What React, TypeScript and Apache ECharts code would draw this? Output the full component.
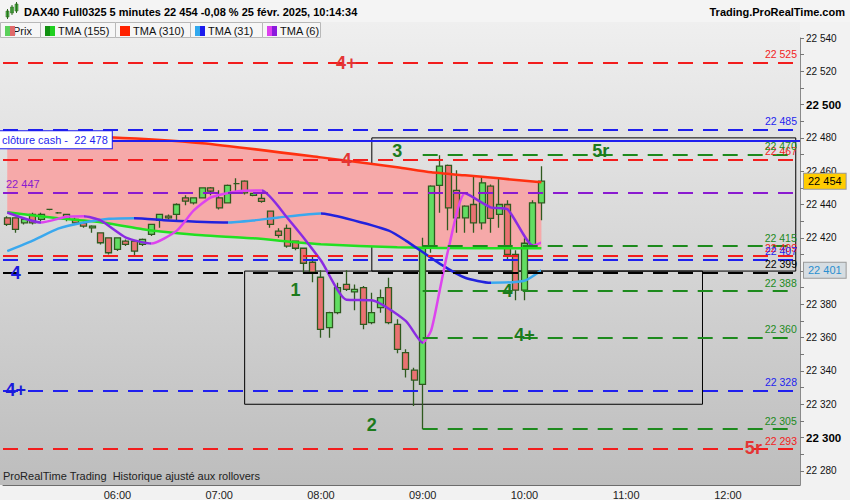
import React, { useEffect, useRef } from 'react';
import * as echarts from 'echarts';

const FONT = 'Liberation Sans, Arial, sans-serif';

// 5 minute slots, 04:55 -> 12:40
const START_MIN = 4 * 60 + 55;
const SLOT_COUNT = 94;
const categories = Array.from({ length: SLOT_COUNT }, (_, i) => {
  const m = START_MIN + i * 5;
  return `${String(Math.floor(m / 60)).padStart(2, '0')}:${String(m % 60).padStart(2, '0')}`;
});

// [open, close, low, high], one per 5 min from 04:55
const candles = [
  [22432, 22428, 22427, 22433],
  [22432, 22425, 22423, 22432],
  [22429, 22431, 22428, 22432],
  [22434, 22429, 22428, 22435],
  [22431, 22434, 22430, 22435],
  [22437, 22437, 22436.5, 22437.5],
  [22435, 22435, 22434.5, 22435.5],
  [22434, 22431, 22430, 22434],
  [22431, 22429, 22428, 22432],
  [22429, 22427, 22426, 22430],
  [22426, 22427, 22423, 22427.5],
  [22423, 22417, 22416, 22423],
  [22420, 22411, 22410, 22420],
  [22413, 22420, 22412, 22420],
  [22418, 22416, 22415, 22419],
  [22418, 22412, 22409.5, 22418],
  [22416, 22419, 22415, 22419.5],
  [22422, 22428, 22421, 22428],
  [22430.5, 22434, 22426, 22434],
  [22433, 22432, 22431, 22434],
  [22434, 22440, 22430.5, 22440.7],
  [22444, 22442, 22439.5, 22445.5],
  [22441, 22444, 22440, 22444],
  [22444, 22450, 22443.7, 22450],
  [22450, 22448, 22445.5, 22450.5],
  [22444, 22438, 22437, 22448.5],
  [22441, 22451.5, 22441, 22452],
  [22452.5, 22452.5, 22447.3, 22455.7],
  [22454, 22447, 22446, 22454.5],
  [22445.5, 22446.7, 22445, 22447],
  [22443.7, 22441.9, 22441, 22446.7],
  [22436, 22428, 22426, 22436],
  [22424, 22421.5, 22420, 22425.7],
  [22425.7, 22415, 22414, 22428],
  [22418, 22413.7, 22412.5, 22418],
  [22413.7, 22404.7, 22398.7, 22414],
  [22405.3, 22399.3, 22393.3, 22408.9],
  [22396.3, 22365, 22360, 22400.5],
  [22366, 22375, 22360, 22375.5],
  [22375, 22390, 22374, 22393],
  [22392, 22389, 22388, 22400.5],
  [22387.5, 22389, 22376.5, 22392],
  [22390, 22368, 22365, 22391],
  [22369, 22375, 22368, 22387],
  [22378, 22384, 22375, 22389],
  [22390, 22369, 22368, 22396],
  [22368, 22353, 22350.7, 22371],
  [22351, 22341, 22336, 22353],
  [22340.5, 22334.5, 22319, 22342],
  [22332, 22414, 22305, 22420],
  [22414, 22451, 22411, 22451.5],
  [22451.5, 22463, 22435, 22469.5],
  [22463.5, 22438, 22424.5, 22464],
  [22448.5, 22432, 22423, 22460.5],
  [22432, 22439, 22423, 22439.5],
  [22440, 22429, 22423, 22457],
  [22429, 22453, 22425, 22457],
  [22451, 22431.7, 22423, 22452],
  [22434, 22440, 22426, 22456],
  [22440, 22410, 22406.5, 22442.5],
  [22410, 22388.5, 22382.5, 22412.5],
  [22388.5, 22416.7, 22382.5, 22419.7],
  [22415.5, 22441, 22414, 22442.5],
  [22441, 22454, 22430.5, 22463],
];

// moving averages, read at a few times
const tma310: [string, number][] = [
  ['04:55', 22482], ['05:55', 22480.4], ['06:50', 22476.8], ['08:00', 22468.3],
  ['08:45', 22462.3], ['09:05', 22459.3], ['09:25', 22457.5], ['09:45', 22455.7], ['10:10', 22453.3],
];
const tma155: [string, number][] = [
  ['04:55', 22435.3], ['05:25', 22431.7], ['05:50', 22429.3], ['06:15', 22425.1], ['06:30', 22423.3],
  ['06:50', 22421.5], ['07:20', 22419.7], ['07:45', 22417.3], ['08:00', 22416.1], ['08:45', 22414.3],
  ['09:35', 22413.7], ['10:10', 22413.7],
];
const tma31: [string, number][] = [
  ['04:55', 22412], ['05:10', 22418.3], ['05:25', 22425.5], ['05:40', 22429.2], ['05:55', 22431.4],
  ['06:10', 22431.8], ['06:30', 22430.4], ['07:05', 22429.2], ['07:20', 22430.4], ['07:35', 22432.2],
  ['08:00', 22434.6], ['08:15', 22431.6], ['08:40', 22424.3], ['08:50', 22418.3], ['09:10', 22404.5],
  ['09:25', 22396], ['09:40', 22393], ['10:00', 22394.2], ['10:10', 22400.5],
];
const tma6: [string, number][] = [
  ['04:55', 22435.2], ['05:15', 22429.2], ['05:30', 22432.6], ['05:40', 22432.9], ['05:50', 22430.4],
  ['06:05', 22420.1], ['06:20', 22416.5], ['06:35', 22424.3], ['06:45', 22436.4], ['06:55', 22444.2],
  ['07:10', 22447.8], ['07:25', 22448.4], ['07:40', 22432.2], ['08:00', 22406.3], ['08:15', 22382.8],
  ['08:30', 22382.5], ['08:50', 22370.1], ['09:00', 22356.9], ['09:05', 22364.4], ['09:10', 22388.2],
  ['09:15', 22412.5], ['09:25', 22446.7], ['09:40', 22438.3], ['09:50', 22437.1], ['10:05', 22415.3],
  ['10:10', 22417.1],
];

// horizontal levels
const redLevels = [22525, 22467, 22409, 22293];
const blueLevels = [22485, 22407, 22328];
const blackLevels = [22399];
const purpleLevels = [22447];
const greenLevels = [22470, 22415, 22388, 22360, 22305];
const greenLevelStart = '09:00';
const cashClose = 22478;

const boxes = [
  { from: '07:15', to: '11:45', top: 22400, bottom: 22320 },
  { from: '08:30', to: '12:40', top: 22480, bottom: 22400 },
];

const waveLabels = [
  { text: '4+', time: '08:15', value: 22525, kind: 'red' },
  { text: '4', time: '08:15', value: 22467, kind: 'red' },
  { text: '3', time: '08:45', value: 22472, kind: 'green' },
  { text: '5r', time: '10:45', value: 22472, kind: 'green' },
  { text: '4', time: '05:00', value: 22399, kind: 'blue' },
  { text: '1', time: '07:45', value: 22388.5, kind: 'green' },
  { text: '4', time: '09:50', value: 22388, kind: 'green' },
  { text: '4+', time: '10:00', value: 22361.5, kind: 'green' },
  { text: '4+', time: '05:00', value: 22328.5, kind: 'blue' },
  { text: '2', time: '08:30', value: 22307.5, kind: 'green' },
  { text: '5r', time: '12:15', value: 22294, kind: 'red' },
];

const yLabels = [22280, 22300, 22320, 22340, 22360, 22380, 22400, 22420, 22440, 22460, 22480, 22500, 22520, 22540];
const yBold = [22300, 22400, 22500];

const COLORS = {
  red: '#f21d1d',
  blue: '#1f1fef',
  green: '#1d8a1d',
  purple: '#8a1ad0',
  black: '#000000',
};
const WAVE_COLORS: Record<string, string> = { red: '#e43535', green: '#1c7a1c', blue: '#1a1adc' };

const fmt = (v: number) => String(Math.round(v)).replace(/\B(?=(\d{3})+(?!\d))/g, ' ');
const idx = (t: string) => categories.indexOf(t);
const toPts = (arr: [string, number][]) => arr.map(([t, v]) => [idx(t), v]);

// colour each segment by direction (rising / falling)
const slopePieces = (pts: number[][], up: string, down: string) =>
  pts.slice(0, -1).map((p, k) => {
    const q = pts[k + 1];
    const last = k === pts.length - 2;
    return last
      ? { gte: p[0], lte: q[0], color: q[1] > p[1] ? up : down }
      : { gte: p[0], lt: q[0], color: q[1] > p[1] ? up : down };
  });

const DASH = [15, 10];

const levelLine = (value: number, color: string, opts: any = {}) => {
  const lineStyle = { color, width: 2, type: opts.solid ? 'solid' : DASH };
  const label = {
    show: true,
    position: opts.position ?? 'insideEndTop',
    formatter: opts.text ?? fmt(value),
    color,
    fontSize: 10.5,
    fontFamily: FONT,
    distance: 3,
    ...(opts.label ?? {}),
  };
  if (opts.from) {
    return [
      { coord: [idx(opts.from), value], lineStyle, label: { ...label, offset: [4, 0] } },
      { coord: [categories.length - 1, value], lineStyle, label: { ...label, offset: [4, 0] } },
    ];
  }
  return { yAxis: value, lineStyle, label };
};

const tabs = [
  { x: 0, w: 40, text: 'Prix', c: ['#5ad05a', '#e06a6a'] },
  { x: 40, w: 75, text: 'TMA (155)', c: ['#109010', '#20d020'] },
  { x: 115, w: 75, text: 'TMA (310)', c: ['#ff2200', '#ff2200'] },
  { x: 190, w: 72, text: 'TMA (31)', c: ['#30a8ee', '#1a1aee'] },
  { x: 262, w: 58, text: 'TMA (6)', c: ['#dd40ee', '#8a1add'] },
];

export default function App() {
  const ref = useRef<HTMLDivElement>(null);

  useEffect(() => {
    if (!ref.current) return;
    const chart = echarts.init(ref.current, null, { renderer: 'svg' });

    const p310 = toPts(tma310);
    const p155 = toPts(tma155);
    const p31 = toPts(tma31);
    const p6 = toPts(tma6);
    const lastClose = candles[candles.length - 1][1];
    const last31 = tma31[tma31.length - 1][1];

    const levelData: any[] = [
      ...redLevels.map(v => levelLine(v, COLORS.red)),
      ...blueLevels.map(v => levelLine(v, COLORS.blue)),
      ...blackLevels.map(v => levelLine(v, COLORS.black)),
      ...purpleLevels.map(v => levelLine(v, COLORS.purple, { position: 'insideStartTop', label: { fontSize: 11 } })),
      ...greenLevels.map(v => levelLine(v, COLORS.green, { from: greenLevelStart })),
      levelLine(cashClose, COLORS.blue, {
        solid: true,
        position: 'insideStartTop',
        text: `clôture cash -  ${fmt(cashClose)}`,
        label: {
          fontSize: 11,
          backgroundColor: '#ffffff',
          borderColor: COLORS.blue,
          borderWidth: 1,
          padding: [3, 4, 3, 3],
          distance: 0,
          offset: [-4, 7],
        },
      }),
    ];

    const tagLabel = {
      show: true,
      position: 'end',
      distance: 4,
      fontSize: 11,
      fontFamily: FONT,
      padding: [2, 4],
      borderWidth: 1,
      borderColor: '#9a9a9a',
      opacity: 1,
    };

    const option: any = {
      animation: false,
      textStyle: { fontFamily: FONT },
      grid: { left: 3, right: 50, top: 38, bottom: 15 },
      graphic: [
        {
          type: 'rect',
          z: -1,
          silent: true,
          shape: { x: 0, y: 22, width: 800, height: 463 },
          style: {
            fill: new echarts.graphic.LinearGradient(0, 0, 0, 1, [
              { offset: 0, color: '#efefef' },
              { offset: 1, color: '#bdbdbd' },
            ]),
          },
        },
        {
          type: 'rect', z: 100, silent: true,
          shape: { x: 0, y: 0, width: 850, height: 22 },
          style: { fill: '#f4f4f4' },
        },
        { type: 'rect', z: 101, shape: { x: 6, y: 11, width: 3, height: 6 }, style: { fill: '#4cc24c', stroke: '#2f6a1f', lineWidth: 0.6 } },
        { type: 'rect', z: 101, shape: { x: 10.5, y: 7, width: 3, height: 6 }, style: { fill: '#4cc24c', stroke: '#2f6a1f', lineWidth: 0.6 } },
        { type: 'rect', z: 101, shape: { x: 15, y: 4, width: 3, height: 7 }, style: { fill: '#4cc24c', stroke: '#2f6a1f', lineWidth: 0.6 } },
        { type: 'line', z: 101, shape: { x1: 7.5, y1: 9, x2: 7.5, y2: 19 }, style: { stroke: '#2f6a1f', lineWidth: 1 } },
        { type: 'line', z: 101, shape: { x1: 12, y1: 5, x2: 12, y2: 15 }, style: { stroke: '#2f6a1f', lineWidth: 1 } },
        { type: 'line', z: 101, shape: { x1: 16.5, y1: 2, x2: 16.5, y2: 13 }, style: { stroke: '#2f6a1f', lineWidth: 1 } },
        {
          type: 'text', z: 101, x: 24, y: 12,
          style: {
            text: 'DAX40 Full0325 5 minutes 22 454 -0,08 % 25 févr. 2025, 10:14:34',
            fill: '#000', fontSize: 11, fontWeight: 'bold', fontFamily: FONT, verticalAlign: 'middle',
          },
        },
        {
          type: 'text', z: 101, x: 845, y: 12,
          style: {
            text: 'Trading.ProRealTime.com',
            fill: '#000', fontSize: 11, fontWeight: 'bold', fontFamily: FONT,
            align: 'right', verticalAlign: 'middle',
          },
        },
        ...tabs.flatMap(t => [
          {
            type: 'rect', z: 100,
            shape: { x: t.x + 0.5, y: 22.5, width: t.w, height: 15 },
            style: { fill: '#f6f6f6', stroke: '#b8b8b8', lineWidth: 1 },
          },
          {
            type: 'text', z: 101, x: t.x + (t.text === 'Prix' ? 13 : 18), y: 30.5,
            style: { text: t.text, fill: '#111', fontSize: 11, fontFamily: FONT, verticalAlign: 'middle' },
          },
          { type: 'rect', z: 102, shape: { x: t.x + 5, y: 26, width: 5, height: 10 }, style: { fill: t.c[0] } },
          { type: 'rect', z: 102, shape: { x: t.x + 10, y: 26, width: 5, height: 10 }, style: { fill: t.c[1] } },
        ]),
        {
          type: 'text', z: 50, x: 3, y: 476,
          style: {
            text: 'ProRealTime Trading  Historique ajusté aux rollovers',
            fill: '#222', fontSize: 11, fontFamily: FONT, verticalAlign: 'middle',
          },
        },
      ],
      xAxis: {
        type: 'category',
        data: categories,
        boundaryGap: true,
        axisLine: { lineStyle: { color: '#6c6c6c' } },
        axisTick: {
          alignWithLabel: true,
          length: 4,
          interval: (_i: number, v: string) => v.endsWith(':00'),
          lineStyle: { color: '#6c6c6c' },
        },
        axisLabel: {
          interval: (_i: number, v: string) => v.endsWith(':00'),
          formatter: (v: string) => (v === '05:00' ? '' : v),
          color: '#222',
          fontSize: 11,
          margin: 4,
        },
        splitLine: { show: false },
      },
      yAxis: {
        type: 'value',
        position: 'right',
        min: 22271.5,
        max: 22540,
        scale: true,
        axisLine: { show: true, lineStyle: { color: '#8a8a8a' } },
        axisTick: {
          show: true,
          length: 4,
          customValues: yLabels.flatMap(v => (v < 22540 ? [v, v + 10] : [v])),
          lineStyle: { color: '#777' },
        },
        axisLabel: {
          customValues: yLabels,
          margin: 6,
          color: '#111',
          fontSize: 10,
          formatter: (v: number) => (yBold.includes(v) ? `{b|${fmt(v)}}` : fmt(v)),
          rich: { b: { fontWeight: 'bold', fontSize: 11.5, color: '#000', fontFamily: FONT } },
        },
        splitLine: { show: false },
      },
      visualMap: [
        { type: 'piecewise', show: false, seriesIndex: 5, dimension: 0, pieces: slopePieces(p31, '#3aa8ee', '#2222dd') },
        { type: 'piecewise', show: false, seriesIndex: 6, dimension: 0, pieces: slopePieces(p6, '#dd44ee', '#8a2be2') },
      ],
      series: [
        {
          type: 'custom',
          silent: true,
          z: 1,
          data: [[0, 22450]],
          renderItem: (_params: any, api: any) => {
            const top = p310.map(p => api.coord(p));
            const bottom = p155.slice().reverse().map(p => api.coord(p));
            return {
              type: 'polygon',
              shape: { points: [...top, ...bottom] },
              style: { fill: '#f6a9a9' },
            };
          },
        },
        {
          type: 'line',
          data: [],
          z: 2,
          silent: true,
          markLine: { silent: true, symbol: ['none', 'none'], data: levelData },
          markArea: {
            silent: true,
            itemStyle: { color: 'rgba(0,0,0,0)', borderColor: '#000', borderWidth: 1 },
            data: boxes.map(b => [{ coord: [idx(b.from), b.top] }, { coord: [idx(b.to), b.bottom] }]),
          },
        },
        {
          type: 'candlestick',
          z: 3,
          barWidth: 6.5,
          data: candles,
          itemStyle: {
            color: '#62dd62',
            color0: '#ea7272',
            borderColor: '#2f5a1f',
            borderColor0: '#2f5a1f',
            borderWidth: 1.3,
          },
        },
        {
          type: 'line', z: 4, data: p310, showSymbol: false, smooth: 0.2,
          lineStyle: { color: '#ff3010', width: 2.5 },
        },
        {
          type: 'line', z: 4, data: p155, showSymbol: false, smooth: 0.2,
          lineStyle: { color: '#22e022', width: 2.5 },
        },
        {
          type: 'line', z: 4, data: p31, showSymbol: false, smooth: 0.2,
          lineStyle: { width: 2.5 },
        },
        {
          type: 'line', z: 4, data: p6, showSymbol: false, smooth: 0.2,
          lineStyle: { width: 2.5 },
        },
        {
          type: 'scatter',
          z: 6,
          silent: true,
          symbolSize: 1,
          itemStyle: { color: 'rgba(0,0,0,0)', opacity: 1 },
          label: {
            show: true,
            position: 'inside',
            fontSize: 18,
            fontWeight: 'bold',
            fontFamily: FONT,
            opacity: 1,
          },
          data: waveLabels.map(w => ({
            value: [idx(w.time), w.value],
            label: { formatter: w.text, color: WAVE_COLORS[w.kind] },
          })),
        },
        {
          type: 'line',
          data: [],
          z: 7,
          silent: true,
          markLine: {
            silent: true,
            symbol: ['none', 'none'],
            lineStyle: { color: 'rgba(0,0,0,0)', width: 1, type: 'solid' },
            data: [
              {
                yAxis: lastClose,
                label: { ...tagLabel, formatter: fmt(lastClose), color: '#000', backgroundColor: '#ffcc00' },
              },
              {
                yAxis: last31,
                label: { ...tagLabel, formatter: fmt(last31), color: '#2a8fd0', backgroundColor: '#d6dde2' },
              },
            ],
          },
        },
      ],
    };

    chart.setOption(option);
    return () => chart.dispose();
  }, []);

  return (
    <div
      ref={ref}
      style={{ position: 'absolute', left: 0, top: 0, width: 850, height: 500, background: '#f2f2f2' }}
    />
  );
}
